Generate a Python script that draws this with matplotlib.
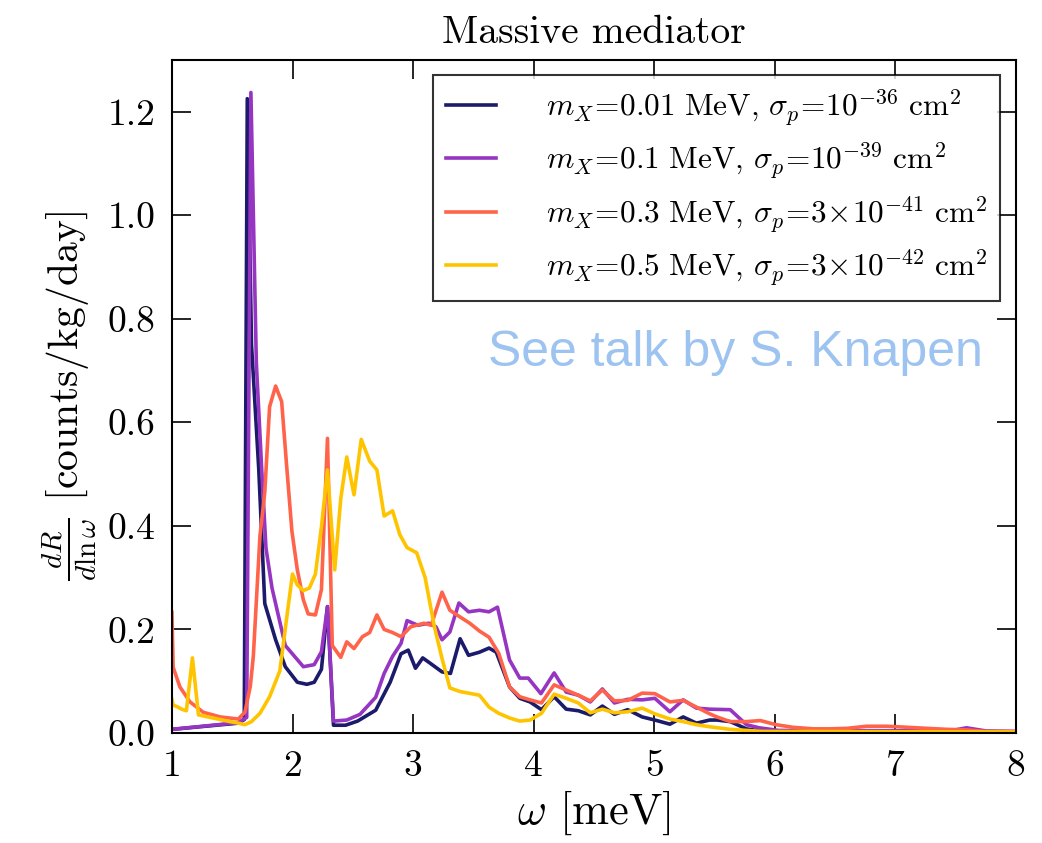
import matplotlib
matplotlib.use("Agg")
import matplotlib.pyplot as plt

plt.rcParams['font.family'] = 'serif'
plt.rcParams['font.serif'] = ['cmr10', 'DejaVu Serif']
plt.rcParams['mathtext.fontset'] = 'cm'
plt.rcParams['axes.formatter.use_mathtext'] = True

# --- data ---
omega_a = [1.00, 1.55, 1.60, 1.625, 1.66, 1.72, 1.77, 1.86, 1.94, 2.04, 2.12, 2.18, 2.24, 2.29,
           2.34, 2.44, 2.54, 2.69, 2.81, 2.90, 2.96, 3.02, 3.08, 3.14, 3.24, 3.31, 3.39, 3.46,
           3.55, 3.63, 3.69, 3.80, 3.885, 3.97, 4.065, 4.17, 4.27, 4.37, 4.47, 4.57, 4.67, 4.78,
           4.90, 5.005, 5.13, 5.24, 5.35, 5.46, 5.52, 5.63, 5.765, 5.87, 6.5, 8.0]
rate_a = [0.007, 0.019, 0.026, 1.225, 0.75, 0.51, 0.25, 0.18, 0.128, 0.098, 0.094, 0.098, 0.123, 0.244,
          0.015, 0.015, 0.023, 0.044, 0.098, 0.153, 0.16, 0.125, 0.145, 0.135, 0.118, 0.115, 0.182, 0.15,
          0.156, 0.164, 0.156, 0.089, 0.067, 0.06, 0.045, 0.07, 0.046, 0.043, 0.035, 0.052, 0.036, 0.045,
          0.031, 0.025, 0.017, 0.031, 0.019, 0.025, 0.025, 0.022, 0.008, 0.004, 0.003, 0.002]

omega_b = [1.00, 1.55, 1.62, 1.655, 1.70, 1.745, 1.78, 1.83, 1.94, 2.09, 2.18, 2.24, 2.29, 2.34,
           2.45, 2.56, 2.69, 2.76, 2.83, 2.90, 2.95, 3.04, 3.13, 3.19, 3.24, 3.305, 3.38, 3.46,
           3.55, 3.63, 3.70, 3.80, 3.885, 3.955, 4.06, 4.17, 4.27, 4.37, 4.47, 4.57, 4.67, 4.78,
           4.90, 5.005, 5.13, 5.24, 5.35, 5.46, 5.63, 5.765, 5.87, 6.03, 7.45, 7.59, 7.75, 8.0]
rate_b = [0.007, 0.02, 0.03, 1.237, 0.715, 0.507, 0.357, 0.28, 0.169, 0.128, 0.132, 0.157, 0.244, 0.023,
          0.025, 0.036, 0.069, 0.115, 0.148, 0.173, 0.217, 0.208, 0.212, 0.205, 0.18, 0.195, 0.251, 0.234,
          0.237, 0.234, 0.243, 0.141, 0.106, 0.106, 0.076, 0.116, 0.079, 0.073, 0.06, 0.085, 0.058, 0.065,
          0.064, 0.067, 0.041, 0.064, 0.048, 0.046, 0.045, 0.016, 0.01, 0.005, 0.004, 0.01, 0.004, 0.003]

omega_c = [1.00, 1.01, 1.066, 1.15, 1.26, 1.40, 1.55, 1.605, 1.65, 1.675, 1.73, 1.77, 1.81, 1.86,
           1.91, 1.95, 1.995, 2.04, 2.09, 2.13, 2.19, 2.24, 2.29, 2.33, 2.40, 2.45, 2.51, 2.58,
           2.64, 2.70, 2.76, 2.83, 2.90, 2.98, 3.09, 3.15, 3.24, 3.305, 3.39, 3.47, 3.55, 3.63,
           3.71, 3.80, 3.885, 3.97, 4.065, 4.17, 4.27, 4.37, 4.47, 4.57, 4.67, 4.78, 4.90, 5.005,
           5.13, 5.24, 5.35, 5.46, 5.52, 5.63, 5.765, 5.88, 6.01, 6.15, 6.32, 6.46, 6.60, 6.76,
           6.93, 7.10, 7.26, 7.43, 7.59, 7.75, 8.0]
rate_c = [0.233, 0.127, 0.089, 0.06, 0.04, 0.031, 0.027, 0.04, 0.09, 0.148, 0.38, 0.465, 0.63, 0.67,
          0.64, 0.52, 0.39, 0.315, 0.257, 0.23, 0.228, 0.277, 0.569, 0.169, 0.146, 0.176, 0.163, 0.186,
          0.194, 0.228, 0.2, 0.194, 0.186, 0.205, 0.212, 0.208, 0.272, 0.237, 0.224, 0.212, 0.197, 0.185,
          0.154, 0.089, 0.07, 0.064, 0.058, 0.093, 0.083, 0.073, 0.062, 0.083, 0.062, 0.063, 0.077, 0.076,
          0.06, 0.063, 0.05, 0.037, 0.031, 0.022, 0.022, 0.024, 0.016, 0.011, 0.008, 0.008, 0.009, 0.013,
          0.013, 0.011, 0.009, 0.007, 0.006, 0.003, 0.003]

omega_d = [1.00, 1.01, 1.05, 1.08, 1.12, 1.17, 1.22, 1.34, 1.48, 1.55, 1.605, 1.66, 1.73, 1.81,
           1.895, 1.96, 2.00, 2.04, 2.09, 2.14, 2.19, 2.24, 2.29, 2.35, 2.40, 2.45, 2.51, 2.57,
           2.64, 2.70, 2.76, 2.83, 2.89, 2.95, 3.03, 3.10, 3.175, 3.24, 3.305, 3.39, 3.55, 3.63,
           3.71, 3.80, 3.885, 3.97, 4.065, 4.17, 4.27, 4.37, 4.47, 4.57, 4.67, 4.78, 4.90, 5.005,
           5.13, 5.24, 5.35, 5.46, 5.63, 5.9, 8.0]
rate_d = [0.065, 0.054, 0.05, 0.046, 0.043, 0.145, 0.035, 0.029, 0.022, 0.019, 0.016, 0.022, 0.038, 0.07,
          0.12, 0.237, 0.307, 0.286, 0.275, 0.28, 0.307, 0.398, 0.508, 0.315, 0.452, 0.533, 0.46, 0.567,
          0.525, 0.508, 0.419, 0.429, 0.383, 0.358, 0.348, 0.3, 0.207, 0.144, 0.087, 0.08, 0.073, 0.05,
          0.038, 0.029, 0.023, 0.025, 0.038, 0.075, 0.067, 0.058, 0.039, 0.046, 0.039, 0.041, 0.048, 0.037,
          0.027, 0.022, 0.016, 0.012, 0.007, 0.003, 0.002]

labels = [r'$m_X\!=\!0.01\ \mathrm{MeV},\!\ \sigma_p\!=\!10^{-36}\ \mathrm{cm}^2$',
          r'$m_X\!=\!0.1\ \mathrm{MeV},\!\ \sigma_p\!=\!10^{-39}\ \mathrm{cm}^2$',
          r'$m_X\!=\!0.3\ \mathrm{MeV},\!\ \sigma_p\!=\!3\!\times\!10^{-41}\ \mathrm{cm}^2$',
          r'$m_X\!=\!0.5\ \mathrm{MeV},\!\ \sigma_p\!=\!3\!\times\!10^{-42}\ \mathrm{cm}^2$']
colors = ['#1b1a6b', '#9635c2', '#ff6349', '#ffc400']

xticks = [1, 2, 3, 4, 5, 6, 7, 8]
yticks = [0.0, 0.2, 0.4, 0.6, 0.8, 1.0, 1.2]

fig = plt.figure(figsize=(10.42, 8.43), dpi=100)
ax = fig.add_axes([0.165, 0.1305, 0.810, 0.7985])

series = [(omega_a, rate_a), (omega_b, rate_b), (omega_c, rate_c), (omega_d, rate_d)]
for (x, y), lab, c in zip(series, labels, colors):
    ax.plot(x, y, color=c, lw=2.6, label=lab)

ax.set_xlim(1, 8)
ax.set_ylim(0, 1.3)
ax.set_xticks(xticks)
ax.set_yticks(yticks)
ax.set_xticklabels([str(t) for t in xticks])
ax.set_yticklabels(['%.1f' % t for t in yticks])
ax.tick_params(direction='in', length=14, width=1.2, top=True, right=True,
               labelsize=27, pad=12)
for s in ax.spines.values():
    s.set_linewidth(1.5)

ax.set_title('Massive mediator', fontsize=28.5, pad=12)
ax.set_xlabel(r'$\omega$ [meV]', fontsize=32, labelpad=4)
ax.set_ylabel(r'$\frac{dR}{d\ln\omega}$ [counts/kg/day]', fontsize=30, labelpad=6)

leg = ax.legend(loc='upper right', fontsize=22.5, frameon=True, fancybox=False,
                edgecolor='black', handlelength=1.6, borderpad=0.4, labelspacing=0.42,
                handletextpad=1.6, borderaxespad=0.0, bbox_to_anchor=(0.981, 0.978))
leg.get_frame().set_linewidth(1.5)

ax.text(0.961, 0.565, 'See talk by S. Knapen', transform=ax.transAxes, ha='right', va='center',
        fontsize=36, color='#9dc3f0', family='Liberation Sans')

fig.savefig('out.png', dpi=100)
